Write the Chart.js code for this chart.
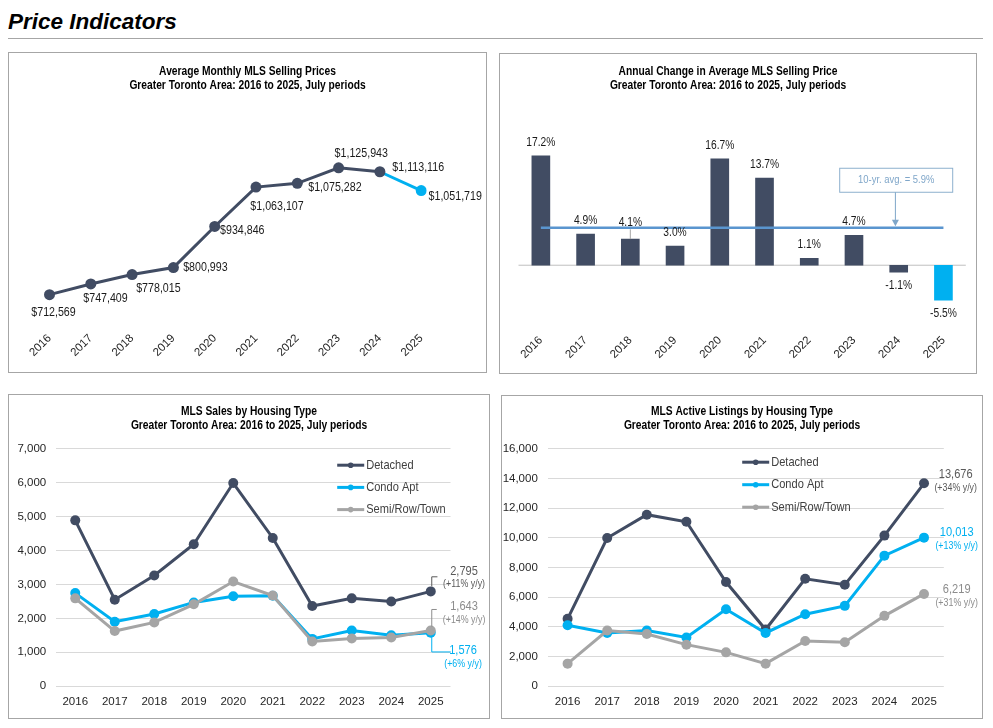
<!DOCTYPE html>
<html>
<head>
<meta charset="utf-8">
<script src="https://cdn.jsdelivr.net/npm/chart.js@4.4.1/dist/chart.umd.min.js"></script>
<style>
  body { margin: 0; background: #fff; width: 993px; height: 728px; overflow: hidden; position: relative; }
  #head { position: absolute; left: 8px; top: 9px; line-height: 23px; font: italic bold 22.5px 'Liberation Sans', Arial, sans-serif; color: #000; }
  #rule { position: absolute; left: 8px; top: 38px; width: 975px; height: 0; border-top: 1.5px solid #a6a6a6; }
  .panel { position: absolute; border: 1.5px solid #a6a6a6; box-sizing: border-box; }
  .panel div { position: absolute; left: 0; top: 0; right: 0; bottom: 0; }
</style>
</head>
<body>
<div id="head">Price Indicators</div>
<div id="rule"></div>
<div class="panel" style="left:8px;top:52px;width:479px;height:321px"><div><canvas id="c1"></canvas></div></div>
<div class="panel" style="left:499px;top:53px;width:478px;height:321px"><div><canvas id="c2"></canvas></div></div>
<div class="panel" style="left:8px;top:394px;width:482px;height:325px"><div><canvas id="c3"></canvas></div></div>
<div class="panel" style="left:501px;top:395px;width:482px;height:324px"><div><canvas id="c4"></canvas></div></div>
<script>
// Data
const years = ['2016', '2017', '2018', '2019', '2020', '2021', '2022', '2023', '2024', '2025'];
const avgPrice = [712569, 747409, 778015, 800993, 934846, 1063107, 1075282, 1125943, 1113116, 1051719];
const annualChange = [17.2, 4.9, 4.1, 3.0, 16.7, 13.7, 1.1, 4.7, -1.1, -5.5];
const tenYearAvg = 5.9;
const salesDetached = [4890, 2550, 3265, 4185, 5990, 4370, 2365, 2590, 2495, 2795];
const salesCondo = [2745, 1900, 2130, 2470, 2650, 2665, 1395, 1640, 1500, 1576];
const salesSemi = [2590, 1625, 1880, 2415, 3085, 2675, 1320, 1405, 1435, 1643];
const salesYoy = [11, 6, 14];
const listDetached = [4540, 9990, 11560, 11080, 7020, 3820, 7240, 6840, 10150, 13676];
const listCondo = [4110, 3590, 3750, 3280, 5190, 3590, 4850, 5415, 8800, 10013];
const listSemi = [1520, 3750, 3520, 2800, 2280, 1520, 3050, 2960, 4740, 6219];
const listYoy = [34, 13, 31];
const typeNames = ['Detached', 'Condo Apt', 'Semi/Row/Town'];
const subTitle = 'Greater Toronto Area: 2016 to 2025, July periods';

const DARK = '#414c63';
const BLUE = '#00b0f0';
const GREY = '#a5a5a5';
const TXT = '#404040';
const FAMILY = "'Liberation Sans', Arial, sans-serif";
const SQ = 0.82; // horizontal squeeze, the reference uses a narrow face

Chart.defaults.font.family = FAMILY;
Chart.defaults.color = TXT;
Chart.defaults.animation = false;
Chart.defaults.events = [];
Chart.defaults.plugins.legend.display = false;
Chart.defaults.plugins.tooltip.enabled = false;
Chart.defaults.maintainAspectRatio = false;

// narrow-looking text
function say(c, t, x, y, size, color, opts = {}) {
    c.save();
    c.font = (opts.bold ? 'bold ' : '') + size + 'px ' + FAMILY;
    c.fillStyle = color;
    c.textAlign = opts.align || 'center';
    c.textBaseline = 'middle';
    c.translate(x, y);
    c.scale(SQ, 1);
    c.fillText(t, 0, 0);
    c.restore();
}

// two-line bold heading
function heading(line1, y, dx) {
    return {
        id: 'heading',
        afterDraw(chart) {
            const x = chart.width / 2 + dx;
            say(chart.ctx, line1, x, y, 12.5, '#000', { bold: true });
            say(chart.ctx, subTitle, x, y + 13.8, 12.5, '#000', { bold: true });
        }
    };
}

// legend drawn inside the plot
function insideLegend(x, y, dy) {
    return {
        id: 'insideLegend',
        afterDraw(chart) {
            const c = chart.ctx;
            chart.data.datasets.forEach((ds, i) => {
                const yy = y + i * dy;
                c.save();
                c.strokeStyle = ds.borderColor;
                c.lineWidth = 3;
                c.beginPath(); c.moveTo(x, yy); c.lineTo(x + 27, yy); c.stroke();
                c.fillStyle = ds.borderColor;
                c.beginPath(); c.arc(x + 13.5, yy, 2.8, 0, Math.PI * 2); c.fill();
                c.restore();
                say(c, ds.label, x + 29, yy, 13.5, TXT, { align: 'left' });
            });
        }
    };
}

// value + y/y change next to the last point of each series
function endLabels(yoy, specs) {
    return {
        id: 'endLabels',
        afterDatasetsDraw(chart) {
            const c = chart.ctx;
            specs.forEach((s, i) => {
                const ds = chart.data.datasets[i];
                const pts = chart.getDatasetMeta(i).data;
                const p = pts[pts.length - 1];
                const v = ds.data[ds.data.length - 1];
                if (s.link) {
                    c.save();
                    c.strokeStyle = s.color;
                    c.lineWidth = 1;
                    c.beginPath();
                    c.moveTo(p.x + 1, p.y + s.link[0]);
                    c.lineTo(p.x + 1, p.y + s.link[1]);
                    c.lineTo(p.x + s.link[2], p.y + s.link[1]);
                    c.stroke();
                    c.restore();
                }
                say(c, v.toLocaleString('en-US'), p.x + s.dx, p.y + s.dy, 13.5, s.color);
                say(c, '(+' + yoy[i] + '% y/y)', p.x + s.dx, p.y + s.dy + 13.5, 10.8, s.color);
            });
        }
    };
}

// Chart 1: average price line
const priceLabelPos = [[4, 18], [14.7, 14.6], [26.3, 13.4], [32, 0.4], [27.6, 4.3],
                       [21, 19.7], [37.6, 3.7], [22.7, -14], [38.3, -4.7], [34, 5.4]];
const last = avgPrice.length - 1;
new Chart(document.getElementById('c1'), {
    type: 'line',
    data: {
        labels: years,
        datasets: [{
            data: avgPrice,
            borderColor: DARK,
            borderWidth: 3,
            segment: { borderColor: s => s.p1DataIndex === last ? BLUE : DARK },
            pointRadius: 5.5,
            pointBorderWidth: 0,
            pointBackgroundColor: avgPrice.map((v, i) => i === last ? BLUE : DARK)
        }]
    },
    options: {
        layout: { padding: { left: 40.5, right: 64.8, top: 46.5, bottom: 0 } },
        scales: {
            x: {
                grid: { display: false }, border: { display: false },
                ticks: { minRotation: 45, maxRotation: 45, autoSkip: false, padding: -2, color: '#262626', font: { size: 11.5 } },
                afterFit: s => { s.height = 46.5; }
            },
            y: { display: false, min: 612000, max: 1348600 }
        }
    },
    plugins: [heading('Average Monthly MLS Selling Prices', 18.4, 0), {
        id: 'priceLabels',
        afterDatasetsDraw(chart) {
            chart.getDatasetMeta(0).data.forEach((p, i) => {
                say(chart.ctx, '$' + avgPrice[i].toLocaleString('en-US'),
                    p.x + priceLabelPos[i][0], p.y + priceLabelPos[i][1], 13, '#1a1a1a');
            });
        }
    }]
});

// Chart 2: annual change bars
const labelLift = { 2: 3.3 };
new Chart(document.getElementById('c2'), {
    type: 'bar',
    data: {
        labels: years,
        datasets: [{
            data: annualChange,
            backgroundColor: annualChange.map((v, i) => i === last ? BLUE : DARK),
            barThickness: 18,
            order: 1
        }, {
            type: 'line',
            data: years.map(() => tenYearAvg),
            borderColor: '#5a95cf',
            borderWidth: 2.5,
            pointRadius: 0,
            order: 0
        }]
    },
    options: {
        layout: { padding: { left: 18.5, right: 10.2, top: 55.5, bottom: 0 } },
        scales: {
            x: {
                grid: { display: false }, border: { display: false },
                ticks: { minRotation: 45, maxRotation: 45, autoSkip: false, padding: -3, color: '#262626', font: { size: 11.5 } },
                afterFit: s => { s.height = 44.5; }
            },
            y: { display: false, min: -9.94, max: 24.46 }
        }
    },
    plugins: [heading('Annual Change in Average MLS Selling Price', 17.4, -10), {
        id: 'barNotes',
        beforeDatasetsDraw(chart) {
            const { ctx, chartArea: a } = chart;
            const y0 = chart.scales.y.getPixelForValue(0);
            ctx.save();
            ctx.strokeStyle = '#bfbfbf';
            ctx.lineWidth = 1;
            ctx.beginPath(); ctx.moveTo(a.left, y0); ctx.lineTo(a.right, y0); ctx.stroke();
            ctx.restore();
        },
        afterDatasetsDraw(chart) {
            const ctx = chart.ctx;
            const bars = chart.getDatasetMeta(0).data;
            bars.forEach((b, i) => {
                const v = annualChange[i];
                const lift = labelLift[i] || 0;
                const ly = v >= 0 ? b.y - 13.5 - lift : b.y + 13.7;
                say(ctx, v.toFixed(1) + '%', b.x, ly, 12.5, '#1a1a1a');
                if (lift) {
                    ctx.save();
                    ctx.strokeStyle = '#a6a6a6';
                    ctx.lineWidth = 1;
                    ctx.beginPath(); ctx.moveTo(b.x, ly + 7); ctx.lineTo(b.x, b.y); ctx.stroke();
                    ctx.restore();
                }
            });
            // 10-yr average call-out
            const ya = chart.scales.y.getPixelForValue(tenYearAvg);
            const xb = bars[8].x;
            const bx = xb - 59, by = ya - 59.4, bw = 113, bh = 24;
            ctx.save();
            ctx.fillStyle = '#fff';
            ctx.fillRect(bx, by, bw, bh);
            ctx.strokeStyle = '#8db0ce';
            ctx.lineWidth = 1;
            ctx.strokeRect(bx, by, bw, bh);
            const ax = xb - 3.3;
            ctx.strokeStyle = '#7fa6c9';
            ctx.fillStyle = '#7fa6c9';
            ctx.beginPath(); ctx.moveTo(ax, by + bh); ctx.lineTo(ax, ya - 6); ctx.stroke();
            ctx.beginPath(); ctx.moveTo(ax - 3.5, ya - 8); ctx.lineTo(ax + 3.5, ya - 8); ctx.lineTo(ax, ya - 1.5); ctx.closePath(); ctx.fill();
            ctx.restore();
            say(ctx, '10-yr. avg. = ' + tenYearAvg + '%', bx + bw / 2, by + bh / 2, 11.5, '#7fa6c9');
        }
    }]
});

// Charts 3 and 4: series by housing type
function typeSeries(d, c, s) {
    const base = { borderWidth: 3, pointRadius: 5, pointBorderWidth: 0 };
    return [
        { ...base, label: typeNames[0], data: d, borderColor: DARK, pointBackgroundColor: DARK, order: 2 },
        { ...base, label: typeNames[1], data: c, borderColor: BLUE, pointBackgroundColor: BLUE, order: 1 },
        { ...base, label: typeNames[2], data: s, borderColor: GREY, pointBackgroundColor: GREY, order: 0 }
    ];
}
function typeOptions(pad, yMax, step, yWidth, yPad, xHeight) {
    return {
        layout: { padding: pad },
        scales: {
            x: {
                offset: true,
                grid: { display: false }, border: { display: false },
                ticks: { padding: 1, color: '#262626', font: { size: 11.5 } },
                afterFit: s => { s.height = xHeight; }
            },
            y: {
                min: 0, max: yMax,
                grid: { color: '#d9d9d9', drawTicks: false }, border: { display: false },
                ticks: { stepSize: step, padding: yPad, color: '#262626', font: { size: 11.5 }, callback: v => v.toLocaleString('en-US') },
                afterFit: s => { s.width = yWidth; }
            }
        }
    };
}

new Chart(document.getElementById('c3'), {
    type: 'line',
    data: { labels: years, datasets: typeSeries(salesDetached, salesCondo, salesSemi) },
    options: typeOptions({ left: 0, right: 38.5, top: 53.8, bottom: 0 }, 7000, 1000, 46.5, 9.3, 31.8),
    plugins: [
        heading('MLS Sales by Housing Type', 16.8, 0),
        insideLegend(328.2, 70.2, 22.2),
        endLabels(salesYoy, [
            { dx: 33.3, dy: -20.6, color: '#595959', link: [-5, -14.6, 6.7] },
            { dx: 32.3, dy: 17.5, color: BLUE, link: [4, 19.2, 20] },
            { dx: 33.3, dy: -24.2, color: '#8c8c8c', link: [-4, -21, 6] }
        ])
    ]
});

new Chart(document.getElementById('c4'), {
    type: 'line',
    data: { labels: years, datasets: typeSeries(listDetached, listCondo, listSemi) },
    options: typeOptions({ left: 0, right: 38.2, top: 52.8, bottom: 0 }, 16000, 2000, 45.8, 10, 31.8),
    plugins: [
        heading('MLS Active Listings by Housing Type', 15.8, 0),
        insideLegend(240.2, 66.2, 22.5),
        endLabels(listYoy, [
            { dx: 31.7, dy: -8.6, color: '#595959' },
            { dx: 32.7, dy: -5, color: BLUE },
            { dx: 32.7, dy: -4.8, color: '#8c8c8c' }
        ])
    ]
});
</script>
</body>
</html>
